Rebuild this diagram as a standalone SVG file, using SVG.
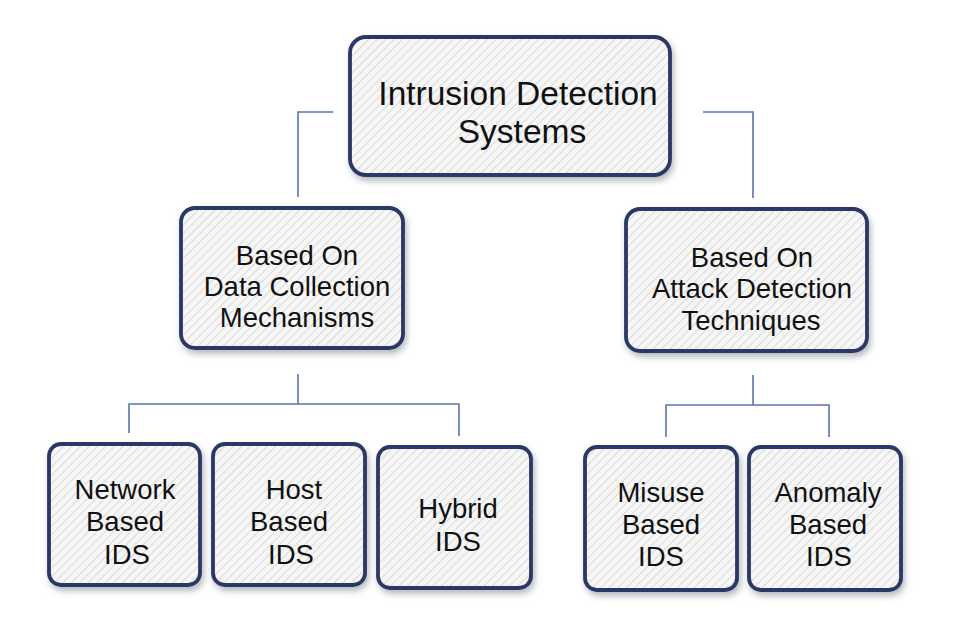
<svg xmlns="http://www.w3.org/2000/svg" width="973" height="618" viewBox="0 0 973 618">
<defs>
<pattern id="hatch" patternUnits="userSpaceOnUse" width="6" height="6" patternTransform="rotate(45)">
<rect width="6" height="6" fill="#f6f6f6"/>
<line x1="0" y1="0" x2="0" y2="6" stroke="#d9d9d9" stroke-width="2"/>
</pattern>
<filter id="shadow" x="-10%" y="-10%" width="125%" height="130%">
<feDropShadow dx="2" dy="4" stdDeviation="3" flood-color="#6b7280" flood-opacity="0.5"/>
</filter>
</defs>
<style>
.box{fill:url(#hatch);stroke:#2a3765;stroke-width:3.8;filter:url(#shadow)}
.t{font-family:"Liberation Sans",Arial,sans-serif;fill:#111;text-anchor:middle}
.t1{font-size:33.5px}
.t2{font-size:27.5px}
.conn{fill:none;stroke:#5577b0;stroke-width:1.6}
</style>
<rect width="973" height="618" fill="#ffffff"/>
<g id="connectors">
<path class="conn" d="M333,112 H298 V197"/>
<path class="conn" d="M703,112 H753 V198"/>
<path class="conn" d="M298,374 V404 M129,433 V404 H459 V436"/>
<path class="conn" d="M753,375 V405 M666,437 V405 H829 V437"/>
</g>
<g id="root">
<rect class="box" x="350" y="37" width="320" height="138" rx="16"/>
<text class="t t1" x="518" y="105">Intrusion Detection</text>
<text class="t t1" x="522" y="143">Systems</text>
</g>
<g id="data-collection">
<rect class="box" x="181" y="208" width="222" height="140" rx="14"/>
<text class="t t2" x="297" y="265">Based On</text>
<text class="t t2" x="297" y="296">Data Collection</text>
<text class="t t2" x="297" y="327">Mechanisms</text>
</g>
<g id="attack-detection">
<rect class="box" x="626" y="209" width="241" height="142" rx="14"/>
<text class="t t2" x="752" y="267">Based On</text>
<text class="t t2" x="752" y="298">Attack Detection</text>
<text class="t t2" x="751" y="330">Techniques</text>
</g>
<g id="network-ids">
<rect class="box" x="49" y="444" width="151" height="141" rx="12"/>
<text class="t t2" x="125" y="499">Network</text>
<text class="t t2" x="125" y="531">Based</text>
<text class="t t2" x="127" y="564">IDS</text>
</g>
<g id="host-ids">
<rect class="box" x="213" y="444" width="152" height="141" rx="12"/>
<text class="t t2" x="294" y="499">Host</text>
<text class="t t2" x="289" y="531">Based</text>
<text class="t t2" x="291" y="564">IDS</text>
</g>
<g id="hybrid-ids">
<rect class="box" x="378" y="447" width="153" height="141" rx="12"/>
<text class="t t2" x="458" y="518">Hybrid</text>
<text class="t t2" x="458" y="551">IDS</text>
</g>
<g id="misuse-ids">
<rect class="box" x="585" y="447" width="152" height="143" rx="12"/>
<text class="t t2" x="661" y="502">Misuse</text>
<text class="t t2" x="661" y="534">Based</text>
<text class="t t2" x="661" y="566">IDS</text>
</g>
<g id="anomaly-ids">
<rect class="box" x="749" y="447" width="152" height="143" rx="12"/>
<text class="t t2" x="828" y="502">Anomaly</text>
<text class="t t2" x="828" y="534">Based</text>
<text class="t t2" x="829" y="566">IDS</text>
</g>
</svg>
